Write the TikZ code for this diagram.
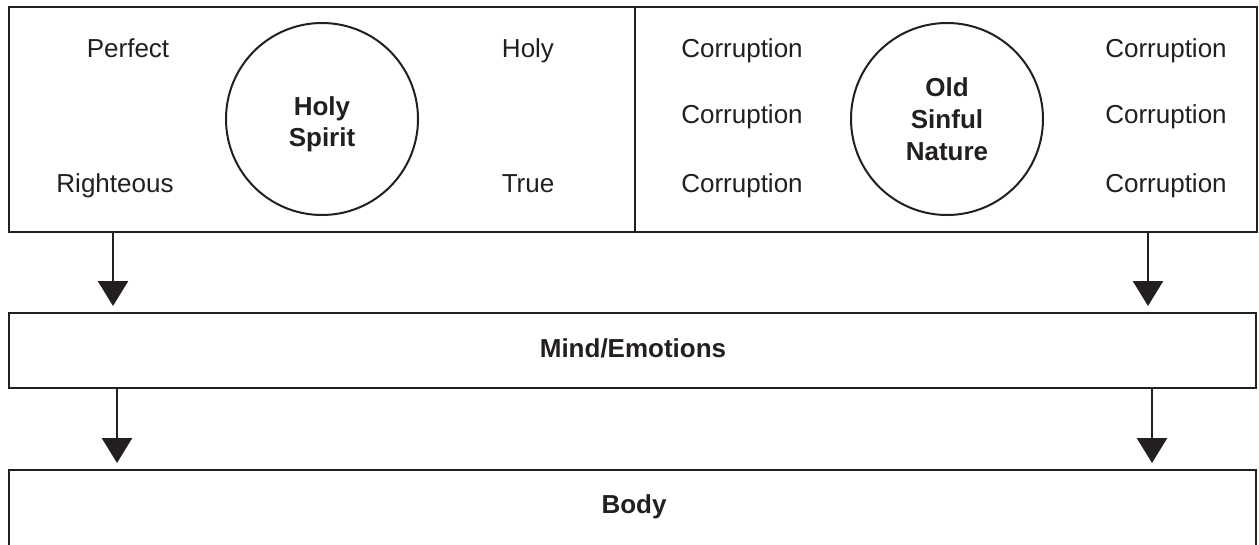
\documentclass[tikz,border=0pt]{standalone}
\usepackage{fontspec}
\setmainfont{Liberation Sans}
\usetikzlibrary{arrows.meta,calc}
\definecolor{ink}{HTML}{231F20}
\begin{document}
\begin{tikzpicture}[x=1pt,y=-1pt,
  box/.style={draw=ink,line width=2.6pt,minimum width=#1,inner sep=0pt,outer sep=0pt},
  circ/.style={draw=ink,circle,line width=2pt,minimum size=192pt,inner sep=0pt},
  lbl/.style={font=\fontsize{26}{31}\selectfont,text=ink,inner sep=0pt,anchor=base},
  blbl/.style={font=\fontsize{26}{31}\selectfont\bfseries,text=ink,inner sep=0pt,anchor=base},
  arr/.style={draw=ink,line width=2.6pt,-{Triangle[width=30pt,length=25pt]}}]
\clip (0,0) rectangle (1259,544);
\fill[white] (0,0) rectangle (1259,544);
% top boxes
\node[box=626pt,minimum height=225pt] (lbox) at (322,119.5) {};
\node[box=622pt,minimum height=225pt] (rbox) at (946,119.5) {};
% circles
\node[circ] (hs) at (322,119) {};
\node[circ] (osn) at (947,119) {};
\node[blbl,align=center,font=\fontsize{26}{31}\selectfont\bfseries] (hst) at (322,146) {Holy\\Spirit};
\node[blbl,align=center,font=\fontsize{26}{32}\selectfont\bfseries] (osnt) at (947,160) {Old\\Sinful\\Nature};
% words
\node[lbl] (w1) at (128,57) {Perfect};
\node[lbl] (w2) at (115,192) {Righteous};
\node[lbl] (w3) at (528,57) {Holy};
\node[lbl] (w4) at (528,192) {True};
\node[lbl] (c1) at (742,57) {Corruption};
\node[lbl] (c2) at (742,123) {Corruption};
\node[lbl] (c3) at (742,192) {Corruption};
\node[lbl] (c4) at (1166,57) {Corruption};
\node[lbl] (c5) at (1166,123) {Corruption};
\node[lbl] (c6) at (1166,192) {Corruption};
% mind
\node[box=1247pt,minimum height=75pt] (mind) at (632.5,350.5) {};
\node[blbl] (mindt) at (633,357) {Mind/Emotions};
% body
\node[box=1247pt,minimum height=100pt] (body) at (632.5,520) {};
\node[blbl] (bodyt) at (634,513) {Body};
% arrows
\coordinate (a1) at (113,0);
\coordinate (a2) at (1148,0);
\coordinate (a3) at (117,0);
\coordinate (a4) at (1152,0);
\draw[arr,shorten >=7pt] (lbox.south -| a1) -- (mind.north -| a1);
\draw[arr,shorten >=7pt] (rbox.south -| a2) -- (mind.north -| a2);
\draw[arr,shorten >=7pt] (mind.south -| a3) -- (body.north -| a3);
\draw[arr,shorten >=7pt] (mind.south -| a4) -- (body.north -| a4);
\end{tikzpicture}
\end{document}
